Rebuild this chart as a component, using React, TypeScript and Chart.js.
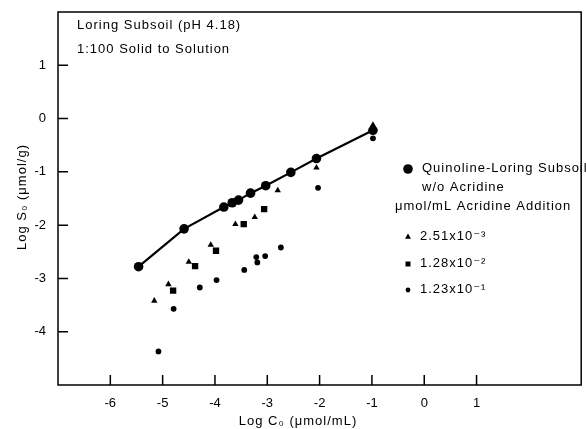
import React, { useEffect, useRef } from "react";
import { Chart, registerables } from "chart.js";

Chart.register(...registerables);

// Quinoline-Loring Subsoil w/o Acridine (line series)
const mainX = [-5.46, -4.59, -3.83, -3.67, -3.55, -3.32, -3.03, -2.55, -2.06, -0.98];
const mainY = [-2.78, -2.07, -1.66, -1.58, -1.53, -1.4, -1.26, -1.01, -0.75, -0.22];
// 2.51x10^-3 acridine addition (triangles)
const triX = [-5.16, -4.89, -4.5, -4.08, -3.61, -3.24, -2.8, -2.06, -0.98];
const triY = [-3.42, -3.11, -2.69, -2.37, -1.98, -1.85, -1.35, -0.92, -0.12];
// 1.28x10^-2 acridine addition (squares)
const sqX = [-4.8, -4.38, -3.98, -3.45, -3.06];
const sqY = [-3.23, -2.77, -2.48, -1.98, -1.7];
// 1.23x10^-1 acridine addition (small circles)
const dotX = [-5.08, -4.79, -4.29, -3.97, -3.44, -3.21, -3.19, -3.04, -2.74, -2.03, -0.98];
const dotY = [-4.37, -3.57, -3.17, -3.03, -2.84, -2.6, -2.7, -2.58, -2.42, -1.3, -0.37];

const xTickLabels = [-6, -5, -4, -3, -2, -1, 0, 1];
const yTickLabels = [1, 0, -1, -2, -3, -4];

const seriesNames = [
  "Quinoline-Loring Subsoil",
  "2.51x10⁻³",
  "1.28x10⁻²",
  "1.23x10⁻¹",
];

const FONT = "13px 'Liberation Sans', Arial, 'DejaVu Sans', sans-serif";

function pts(xs: number[], ys: number[]) {
  return xs.map((x, i) => ({ x, y: ys[i] }));
}

const decor = {
  id: "decor",
  beforeDraw(chart: any) {
    const { ctx, width, height } = chart;
    ctx.save();
    ctx.fillStyle = "#fff";
    ctx.fillRect(0, 0, width, height);
    ctx.restore();
  },
  afterDraw(chart: any) {
    const { ctx, chartArea: a, scales } = chart;
    ctx.save();
    ctx.strokeStyle = "#000";
    ctx.lineWidth = 1.5;
    ctx.strokeRect(a.left, a.top, a.right - a.left, a.bottom - a.top);
    ctx.beginPath();
    for (const v of xTickLabels) {
      const px = scales.x.getPixelForValue(v);
      ctx.moveTo(px, a.bottom);
      ctx.lineTo(px, a.bottom - 10);
    }
    for (const v of yTickLabels) {
      const py = scales.y.getPixelForValue(v);
      ctx.moveTo(a.left, py);
      ctx.lineTo(a.left + 10, py);
    }
    ctx.stroke();

    ctx.fillStyle = "#000";
    ctx.font = FONT;
    (ctx as any).letterSpacing = "1px";
    ctx.textBaseline = "middle";
    ctx.textAlign = "left";
    ctx.fillText("Loring Subsoil (pH 4.18)", 77, 25);
    ctx.fillText("1:100 Solid to Solution", 77, 49);

    // legend
    ctx.fillText(seriesNames[0], 422, 168);
    ctx.fillText("w/o Acridine", 422, 187);
    ctx.fillText("μmol/mL Acridine Addition", 395, 206);
    ctx.fillText(seriesNames[1], 420, 236);
    ctx.fillText(seriesNames[2], 420, 263);
    ctx.fillText(seriesNames[3], 420, 289);

    ctx.beginPath();
    ctx.arc(408, 169, 4.8, 0, Math.PI * 2);
    ctx.fill();
    ctx.beginPath();
    ctx.moveTo(408, 233.5);
    ctx.lineTo(411, 238.8);
    ctx.lineTo(405, 238.8);
    ctx.closePath();
    ctx.fill();
    ctx.fillRect(405.5, 261.5, 5, 5);
    ctx.beginPath();
    ctx.arc(408, 290, 2.4, 0, Math.PI * 2);
    ctx.fill();

    // axis titles
    ctx.textAlign = "center";
    ctx.fillText("Log C₀ (μmol/mL)", 298, 421);
    ctx.translate(22, 197);
    ctx.rotate(-Math.PI / 2);
    ctx.fillText("Log S₀ (μmol/g)", 0, 0);
    ctx.restore();
  },
};

export default function App() {
  const ref = useRef<HTMLCanvasElement | null>(null);
  useEffect(() => {
    if (!ref.current) return;
    const chart = new Chart(ref.current, {
      type: "scatter",
      data: {
        datasets: [
          {
            label: seriesNames[0],
            data: pts(mainX, mainY),
            showLine: true,
            borderColor: "#000",
            borderWidth: 2.2,
            backgroundColor: "#000",
            pointRadius: 4.8,
            pointStyle: "circle",
            pointBorderWidth: 0,
          },
          {
            label: seriesNames[1],
            data: pts(triX, triY),
            backgroundColor: "#000",
            borderColor: "#000",
            pointRadius: 3.7,
            pointStyle: "triangle",
            pointBorderWidth: 0,
          },
          {
            label: seriesNames[2],
            data: pts(sqX, sqY),
            backgroundColor: "#000",
            borderColor: "#000",
            pointRadius: 4.5,
            pointStyle: "rect",
            pointBorderWidth: 0,
          },
          {
            label: seriesNames[3],
            data: pts(dotX, dotY),
            backgroundColor: "#000",
            borderColor: "#000",
            pointRadius: 2.9,
            pointStyle: "circle",
            pointBorderWidth: 0,
          },
        ],
      },
      options: {
        animation: false,
        responsive: false,
        devicePixelRatio: 1,
        layout: { padding: { top: 12, right: 1, left: 0, bottom: 0 } },
        plugins: {
          legend: { display: false },
          tooltip: { enabled: false },
          title: { display: false },
        },
        scales: {
          x: {
            type: "linear",
            min: -7,
            max: 3,
            grid: { display: false },
            border: { display: false },
            ticks: {
              stepSize: 1,
              autoSkip: false,
              maxRotation: 0,
              padding: 3,
              color: "#000",
              font: { family: "'Liberation Sans', Arial, sans-serif", size: 13 },
              callback: (v: any) => (xTickLabels.includes(Number(v)) ? String(v) : ""),
            },
            afterFit: (s: any) => {
              s.height = 44;
            },
          },
          y: {
            type: "linear",
            min: -5,
            max: 2,
            grid: { display: false },
            border: { display: false },
            ticks: {
              stepSize: 1,
              autoSkip: false,
              padding: 4,
              color: "#000",
              font: { family: "'Liberation Sans', Arial, sans-serif", size: 13 },
              callback: (v: any) => (yTickLabels.includes(Number(v)) ? String(v) : ""),
            },
            afterFit: (s: any) => {
              s.width = 58;
            },
          },
        },
      },
      plugins: [decor],
    });
    return () => chart.destroy();
  }, []);
  return (
    <div style={{ position: "absolute", left: 0, top: 0, width: 586, height: 429 }}>
      <canvas ref={ref} width={586} height={429} style={{ display: "block" }} />
    </div>
  );
}
